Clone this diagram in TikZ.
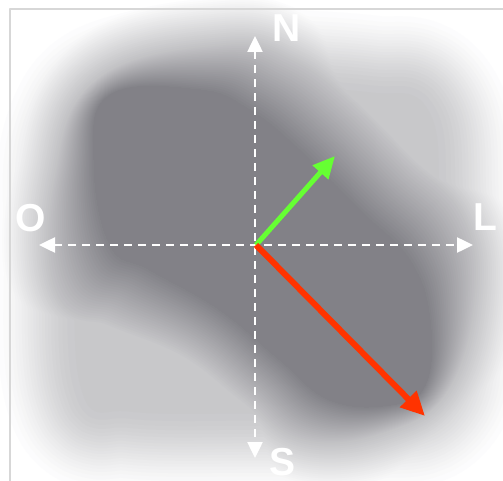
\documentclass[tikz,border=0pt]{standalone}
\usepackage{fontspec}
\setmainfont{Liberation Sans}
\usetikzlibrary{arrows.meta}
\definecolor{blobc}{RGB}{130,129,135}
\definecolor{grn}{RGB}{102,255,51}
\definecolor{rd}{RGB}{255,51,0}
\definecolor{framec}{RGB}{215,215,215}
\tikzset{
  outerblob/.style={insert path={plot[smooth cycle, tension=0.7] coordinates {(-116,-147) (4,-149) (114,-143) (164,-130) (174,-45) (174,75) (169,145) (114,157) (-6,159) (-126,157) (-166,140) (-171,5) (-166,-105)}}},
  innerblob/.style={insert path={plot[smooth cycle, tension=0.7] coordinates {(-146,-150) (-56,-155) (-6,-135) (44,-95) (104,-35) (154,15) (174,75) (169,140) (134,160) (74,155) (24,115) (-36,65) (-106,25) (-146,0) (-162,-85)}}},
  axis/.style={white, line width=1.25pt, dash pattern=on 4pt off 3pt, {Triangle[length=8pt,width=7.5pt]}-{Triangle[length=8pt,width=7.5pt]}},
  lbl/.style={text=white, font=\fontsize{19.5}{20}\selectfont\bfseries, inner sep=0pt}
}
\begin{document}
\begin{tikzpicture}[x=0.5pt,y=-0.5pt, line join=round]
\useasboundingbox (0,0) rectangle (503,481);
\fill[white] (0,0) rectangle (503,481);
% soft blob: level sets painted from light to dark
\begin{scope}[shift={(256,245)}]
\foreach \k in {1,...,50} {
  \pgfmathsetmacro\pct{\k*2}
  \pgfmathtruncatemacro\doouter{\pct<=45 ? 1 : 0}
  \ifnum\doouter=1
    \pgfmathsetmacro\ro{100*acos(2*\pct/45-1)/180}
    \filldraw[fill=blobc!\pct!white, draw=blobc!\pct!white, line width=\ro pt, outerblob];
  \fi
  \pgfmathsetmacro\g{1-\pct/100}
  \pgfmathsetmacro\f{1+min(\g,0.5)}
  \pgfmathsetmacro\ri{\g<=0.5 ? 40*\g : 20+100*(\g-0.5)}
  \filldraw[fill=blobc!\pct!white, draw=blobc!\pct!white, line width=\ri pt, rotate=45, xscale=\f, rotate=-45, innerblob];
}
\end{scope}
% frame
\draw[framec, line width=0.8pt] (10,481) -- (10,9) -- (503,9);
% axes
\coordinate (c) at (256,245);
\coordinate (n) at (255,36);
\coordinate (s) at (255,458);
\coordinate (o) at (39,245);
\coordinate (l) at (473,245);
\coordinate (g) at (335,156);
\coordinate (r) at (425,416);
\draw[axis] (n) -- (s);
\draw[axis] (o) -- (l);
\draw[grn, line width=2.5pt, -{Triangle[length=11pt,width=10pt]}] (c) -- (g);
\draw[rd, line width=3pt, -{Triangle[length=12pt,width=11pt]}] (c) -- (r);
\node[lbl] (ln) at (287,28) {N};
\node[lbl] (ls) at (283,462) {S};
\node[lbl] (lo) at (31,218) {O};
\node[lbl] (ll) at (485,217) {L};
\end{tikzpicture}
\end{document}
